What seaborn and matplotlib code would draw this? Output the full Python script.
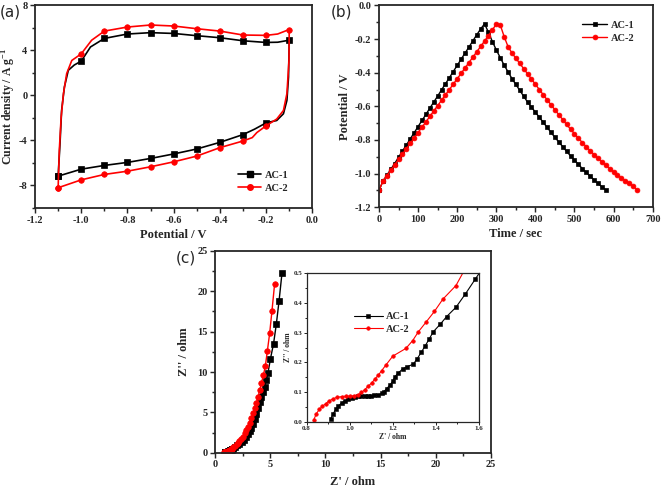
import numpy as np
import pandas as pd
import seaborn as sns
import matplotlib.pyplot as plt
from matplotlib.lines import Line2D
from matplotlib.ticker import MultipleLocator, FormatStrFormatter

# (a) cyclic voltammetry loops: potential / V and current density / A g-1
cv1_v = [-1.1, -1.092, -1.085, -1.073, -1.056, -1.03, -1.0, -0.96, -0.9, -0.8,
         -0.7, -0.6, -0.5, -0.4, -0.3, -0.2, -0.15, -0.1, -0.103, -0.11,
         -0.125, -0.154, -0.2, -0.25, -0.3, -0.4, -0.5, -0.6, -0.7, -0.8,
         -0.9, -1.0, -1.1]
cv1_i = [-7.17, -4.3, -1.34, 0.74, 2.23, 2.7, 3.04, 4.3, 5.06, 5.45,
         5.57, 5.5, 5.3, 5.12, 4.85, 4.7, 4.72, 4.9, 1.63, -0.45,
         -1.63, -2.23, -2.44, -3.0, -3.48, -4.17, -4.76, -5.2, -5.6, -5.95,
         -6.22, -6.55, -7.17]
cv2_v = [-1.1, -1.095, -1.087, -1.077, -1.063, -1.041, -1.0, -0.955, -0.9, -0.8,
         -0.7, -0.6, -0.5, -0.4, -0.3, -0.2, -0.15, -0.1, -0.101, -0.11,
         -0.125, -0.154, -0.2, -0.24, -0.26, -0.3, -0.4, -0.5, -0.6, -0.7,
         -0.8, -0.9, -1.0, -1.1]
cv2_i = [-8.2, -4.9, -1.94, 0.15, 1.94, 3.1, 3.69, 4.9, 5.71, 6.07,
         6.25, 6.16, 5.92, 5.71, 5.36, 5.33, 5.45, 5.85, 3.1, 0.15,
         -1.34, -2.1, -2.7, -3.3, -3.75, -4.05, -4.64, -5.39, -5.9, -6.34,
         -6.73, -7.02, -7.5, -8.2]

# (b) charge / discharge: time / sec and potential / V
gcd1_t = [0, 10, 20, 30, 40, 50, 60, 70, 80, 90, 100, 110, 120, 130, 140, 150,
          160, 170, 180, 190, 200, 210, 220, 230, 240, 250, 260, 270, 280, 290,
          300, 310, 320, 330, 340, 350, 360, 370, 380, 390, 400, 410, 420, 430,
          440, 450, 460, 470, 480, 490, 500, 510, 520, 530, 540, 550, 560, 570, 580]
gcd1_v = [-1.100, -1.045, -1.010, -0.975, -0.940, -0.903, -0.866, -0.830, -0.793,
          -0.757, -0.720, -0.684, -0.648, -0.611, -0.575, -0.539, -0.502, -0.466,
          -0.430, -0.393, -0.357, -0.320, -0.284, -0.248, -0.211, -0.175, -0.140,
          -0.110, -0.160, -0.215, -0.265, -0.310, -0.355, -0.395, -0.435, -0.470,
          -0.505, -0.540, -0.575, -0.605, -0.635, -0.665, -0.695, -0.725, -0.755,
          -0.785, -0.812, -0.840, -0.868, -0.895, -0.920, -0.945, -0.970, -0.993,
          -1.015, -1.037, -1.058, -1.078, -1.097]
gcd2_t = [0, 10, 20, 30, 40, 50, 60, 70, 80, 90, 100, 110, 120, 130, 140, 150,
          160, 170, 180, 190, 200, 210, 220, 230, 240, 250, 260, 270, 280, 290,
          300, 310, 320, 330, 340, 350, 360, 370, 380, 390, 400, 410, 420, 430,
          440, 450, 460, 470, 480, 490, 500, 510, 520, 530, 540, 550, 560, 570,
          580, 590, 600, 610, 620, 630, 640, 650, 660]
gcd2_v = [-1.100, -1.045, -1.012, -0.980, -0.948, -0.916, -0.884, -0.852, -0.820,
          -0.788, -0.756, -0.724, -0.692, -0.660, -0.628, -0.596, -0.564, -0.532,
          -0.500, -0.468, -0.436, -0.404, -0.372, -0.340, -0.308, -0.276, -0.244,
          -0.212, -0.180, -0.145, -0.112, -0.115, -0.185, -0.245, -0.283, -0.314,
          -0.345, -0.376, -0.407, -0.438, -0.469, -0.500, -0.531, -0.561, -0.591,
          -0.621, -0.650, -0.679, -0.708, -0.736, -0.763, -0.790, -0.815, -0.840,
          -0.864, -0.887, -0.909, -0.930, -0.950, -0.970, -0.990, -1.008, -1.025,
          -1.042, -1.058, -1.074, -1.097]

# (c) Nyquist: Z' / ohm and Z'' / ohm (the inset shows the same data zoomed)
eis1_re = [0.913, 0.924, 0.935, 0.947, 0.963, 0.978, 0.993, 1.009, 1.024, 1.040,
           1.055, 1.070, 1.085, 1.100, 1.115, 1.133, 1.148, 1.159, 1.172, 1.187,
           1.200, 1.210, 1.226, 1.246, 1.264, 1.295, 1.314, 1.332, 1.350, 1.370,
           1.388, 1.420, 1.450, 1.493, 1.537, 1.583, 1.620,
           1.8, 2.0, 2.2, 2.4, 2.6, 2.8, 3.0, 3.15, 3.29, 3.44, 3.59, 3.74, 3.9,
           4.05, 4.2, 4.35, 4.5, 4.65, 4.8, 5.01, 5.3, 5.55, 5.8, 6.07]
eis1_im = [0.011, 0.028, 0.042, 0.053, 0.064, 0.071, 0.076, 0.081, 0.084, 0.087,
           0.088, 0.088, 0.088, 0.088, 0.089, 0.090, 0.096, 0.102, 0.112, 0.124,
           0.137, 0.152, 0.165, 0.178, 0.185, 0.194, 0.213, 0.234, 0.255, 0.280,
           0.303, 0.328, 0.354, 0.385, 0.430, 0.480, 0.52,
           0.70, 0.90, 1.12, 1.36, 1.62, 1.95, 2.35, 2.7, 3.05, 3.6, 4.2, 4.85, 5.6,
           6.3, 6.95, 7.55, 8.2, 9.0, 9.9, 11.57, 13.5, 15.9, 18.8, 22.3]
eis2_re = [0.834, 0.846, 0.859, 0.874, 0.890, 0.905, 0.924, 0.942, 0.963, 0.983,
           1.000, 1.020, 1.040, 1.055, 1.071, 1.086, 1.102, 1.117, 1.133, 1.148,
           1.168, 1.200, 1.261, 1.292, 1.319, 1.353, 1.393, 1.432, 1.493, 1.540,
           1.65, 1.8, 1.95, 2.08, 2.2, 2.35, 2.54, 2.7, 2.85, 2.99, 3.14, 3.29,
           3.45, 3.6, 3.75, 3.9, 4.05, 4.2, 4.38, 4.56, 4.74, 4.95, 5.16, 5.4]
eis2_im = [0.008, 0.028, 0.042, 0.053, 0.062, 0.071, 0.078, 0.083, 0.085, 0.087,
           0.087, 0.088, 0.092, 0.099, 0.109, 0.120, 0.131, 0.144, 0.157, 0.172,
           0.191, 0.221, 0.247, 0.273, 0.303, 0.334, 0.371, 0.412, 0.458, 0.52,
           0.66, 0.85, 1.05, 1.22, 1.42, 1.7, 2.0, 2.45, 2.85, 3.22, 3.72, 4.26,
           4.88, 5.5, 6.2, 6.94, 7.75, 8.6, 9.6, 10.74, 12.6, 14.8, 17.6, 20.95]

labels = ['AC-1', 'AC-2']
colors = ['black', 'red']
markers = ['s', 'o']

sns.set_style('ticks')
plt.rcParams['font.family'] = ['Liberation Serif', 'DejaVu Serif']
plt.rcParams['font.weight'] = 'bold'
plt.rcParams['axes.labelweight'] = 'bold'
plt.rcParams['axes.unicode_minus'] = False
plt.rcParams['mathtext.fontset'] = 'custom'
plt.rcParams['mathtext.rm'] = 'Liberation Serif:bold'
plt.rcParams['mathtext.bf'] = 'Liberation Serif:bold'


def style(ax, xmaj, ymaj, xfmt, yfmt, size=7.5, lw=1.3):
    ax.xaxis.set_major_locator(MultipleLocator(xmaj))
    ax.xaxis.set_minor_locator(MultipleLocator(xmaj / 2))
    ax.yaxis.set_major_locator(MultipleLocator(ymaj))
    ax.yaxis.set_minor_locator(MultipleLocator(ymaj / 2))
    ax.xaxis.set_major_formatter(FormatStrFormatter(xfmt))
    ax.yaxis.set_major_formatter(FormatStrFormatter(yfmt))
    ax.tick_params(which='major', direction='out', length=3.5, width=lw * 0.8,
                   labelsize=size, pad=2)
    ax.tick_params(which='minor', direction='out', length=2, width=lw * 0.8)
    for sp in ax.spines.values():
        sp.set_visible(True)
        sp.set_linewidth(lw)
    for t in ax.get_xticklabels() + ax.get_yticklabels():
        t.set_fontweight('bold')


fig = plt.figure(figsize=(6.61, 4.9), dpi=100)

# ---- (a) CV
ax1 = fig.add_axes([0.053, 0.5755, 0.4195, 0.4137])
for v, i, c, m, lab in zip([cv1_v, cv2_v], [cv1_i, cv2_i], colors, markers, labels):
    d = pd.DataFrame({'v': v, 'i': i})
    mark = np.isclose(d['v'] * 10, np.round(d['v'] * 10))
    sns.lineplot(data=d, x='v', y='i', sort=False, estimator=None, ax=ax1,
                 color=c, lw=1.2, marker=m, markersize=4, markevery=list(mark),
                 markeredgecolor=c, markeredgewidth=0.5)
ax1.set_xlim(-1.2, 0.0)
ax1.set_ylim(-10, 8)
ax1.set_xlabel('Potential / V', fontsize=9, labelpad=3)
ax1.set_ylabel(r'Current density / A g$^{-1}$', fontsize=8.5, labelpad=0.5)
style(ax1, 0.2, 4, '%.1f', '%d')
handles = [Line2D([], [], color=c, marker=m, markersize=4, lw=1.2)
           for c, m in zip(colors, markers)]
ax1.legend(handles, labels, loc='lower right', bbox_to_anchor=(0.95, 0.03),
           frameon=False, handlelength=2.2, handletextpad=0.4,
           labelspacing=0.35, prop={'weight': 'bold', 'size': 7.5})

# ---- (b) GCD
ax2 = fig.add_axes([0.5734, 0.577, 0.414, 0.412])
for t, v, c, m, lab in zip([gcd1_t, gcd2_t], [gcd1_v, gcd2_v], colors, markers, labels):
    d = pd.DataFrame({'t': t, 'v': v})
    sns.lineplot(data=d, x='t', y='v', sort=False, estimator=None, ax=ax2,
                 color=c, lw=1.0, marker=m, markersize=3.5,
                 markeredgecolor=c, markeredgewidth=0.5, label=lab)
ax2.set_xlim(0, 700)
ax2.set_ylim(-1.2, 0.0)
ax2.set_xlabel('Time / sec', fontsize=9, labelpad=3)
ax2.set_ylabel('Potential / V', fontsize=9, labelpad=3)
style(ax2, 100, 0.2, '%d', '%.1f')
ax2.legend(loc='upper right', bbox_to_anchor=(0.97, 0.97), frameon=False,
           handlelength=2.4, handletextpad=0.4, labelspacing=0.35,
           prop={'weight': 'bold', 'size': 7.5})

# ---- (c) Nyquist
ax3 = fig.add_axes([0.3253, 0.0761, 0.4175, 0.4117])
ins = fig.add_axes([0.4637, 0.1388, 0.261, 0.304])
for re, im, c, m, lab in zip([eis1_re, eis2_re], [eis1_im, eis2_im], colors, markers, labels):
    d = pd.DataFrame({'re': re, 'im': im})
    sns.lineplot(data=d, x='re', y='im', sort=False, estimator=None, ax=ax3,
                 color=c, lw=1.0, marker=m, markersize=4,
                 markeredgecolor=c, markeredgewidth=0.5)
    sns.lineplot(data=d, x='re', y='im', sort=False, estimator=None, ax=ins,
                 color=c, lw=0.8, marker=m, markersize=2.6,
                 markeredgecolor=c, markeredgewidth=0.4, label=lab)
ax3.set_xlim(0, 25)
ax3.set_ylim(0, 25)
ax3.set_xlabel("Z' / ohm", fontsize=9, labelpad=5)
ax3.set_ylabel("Z'' / ohm", fontsize=9, labelpad=5)
style(ax3, 5, 5, '%d', '%d')

ins.set_xlim(0.8, 1.6)
ins.set_ylim(0, 0.5)
ins.set_xlabel("Z' / ohm", fontsize=5.5, labelpad=1)
ins.set_ylabel("Z'' / ohm", fontsize=5.5, labelpad=1)
style(ins, 0.2, 0.1, '%.1f', '%.1f', size=5, lw=0.9)
ins.tick_params(which='major', length=2, pad=1)
ins.tick_params(which='minor', length=1.2)
ins.legend(loc='upper left', bbox_to_anchor=(0.22, 0.8), frameon=False,
           handlelength=2.8, handletextpad=0.3, labelspacing=0.3,
           prop={'weight': 'bold', 'size': 7.5})

# panel letters
for x, y, s in [(0.0, 0.99, '(a)'), (0.501, 0.99, '(b)'), (0.266, 0.488, '(c)')]:
    fig.text(x, y, s, fontsize=11, family='DejaVu Sans', fontweight='normal',
             va='top', ha='left')

fig.savefig('out.png', dpi=100)
